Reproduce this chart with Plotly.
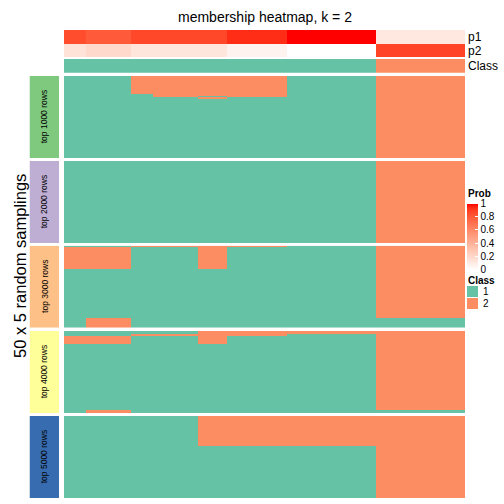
import numpy as np
import plotly.graph_objects as go

# ---------------- data ----------------
# consecutive samples sharing identical values (54 samples in total)
group_sizes = [3, 6, 3, 6, 4, 8, 12, 12]
p1_by_group = [0.85, 0.80, 0.87, 0.87, 0.87, 0.94, 1.00, 0.12]
p2_by_group = [0.15, 0.20, 0.13, 0.13, 0.13, 0.06, 0.00, 0.88]
class_by_group = [1, 1, 1, 1, 1, 1, 1, 2]

slice_names = ["top 1000 rows", "top 2000 rows", "top 3000 rows",
               "top 4000 rows", "top 5000 rows"]
slice_colors = ["#7FC97F", "#BEAED4", "#FDC086", "#FFFF99", "#386CB0"]

# membership of each random sampling: (number of samplings, class per sample group)
top1000 = [(11, "11222212"), (1, "11122212"), (1, "11121212"),
           (1, "11112112"), (36, "11111112")]
top2000 = [(50, "11111112")]
top3000 = [(1, "11222212"), (13, "22112112"), (30, "11111112"), (6, "12111111")]
top4000 = [(2, "11112222"), (1, "11222212"), (5, "22112112"),
           (40, "11111112"), (2, "12111111")]
top5000 = [(18, "11112222"), (32, "11111112")]
slices = [top1000, top2000, top3000, top4000, top5000]

class_colors = {1: "#66C2A5", 2: "#FC8D62"}

# ---------------- helpers ----------------
def expand(vals):
    return [v for v, n in zip(vals, group_sizes) for _ in range(n)]

def slice_matrix(runs):
    rows = []
    for cnt, pat in runs:
        row = expand([int(c) for c in pat])
        rows.extend([row] * cnt)
    return rows

def srgb_to_lab(rgb):
    c = np.array(rgb, float) / 255
    c = np.where(c > 0.04045, ((c + 0.055) / 1.055) ** 2.4, c / 12.92)
    M = np.array([[0.4124, 0.3576, 0.1805], [0.2126, 0.7152, 0.0722], [0.0193, 0.1192, 0.9505]])
    xyz = M @ c / np.array([0.95047, 1.0, 1.08883])
    f = np.where(xyz > 0.008856, np.cbrt(xyz), 7.787 * xyz + 16 / 116)
    return np.array([116 * f[1] - 16, 500 * (f[0] - f[1]), 200 * (f[1] - f[2])])

def lab_to_hex(lab):
    L, a, b = lab
    fy = (L + 16) / 116
    fx = fy + a / 500
    fz = fy - b / 200
    f = np.array([fx, fy, fz])
    xyz = np.where(f > 0.2069, f ** 3, (f - 16 / 116) / 7.787) * np.array([0.95047, 1.0, 1.08883])
    Mi = np.array([[3.2406, -1.5372, -0.4986], [-0.9689, 1.8758, 0.0415], [0.0557, -0.2040, 1.0570]])
    c = Mi @ xyz
    c = np.clip(c, 0, 1)
    c = np.where(c > 0.0031308, 1.055 * c ** (1 / 2.4) - 0.055, 12.92 * c)
    c = np.clip(np.round(c * 255), 0, 255).astype(int)
    return "#%02X%02X%02X" % tuple(c)

lw, lr = srgb_to_lab((255, 255, 255)), srgb_to_lab((255, 0, 0))
prob_scale = [[t, lab_to_hex(lw + (lr - lw) * t)] for t in np.linspace(0, 1, 21)]
class_scale = [[0, class_colors[1]], [0.5, class_colors[1]], [0.5, class_colors[2]], [1, class_colors[2]]]

W = H = 504
def py(p):
    return 1 - p / H

FONT = "Liberation Sans, Arial, Helvetica, sans-serif"
n_samples = sum(group_sizes)
xs = list(range(n_samples))

fig = go.Figure()

# probability annotation rows
fig.add_trace(go.Heatmap(
    z=[expand(p1_by_group), expand(p2_by_group)], x=xs, y=[0, 1],
    zmin=0, zmax=1, colorscale=prob_scale, xaxis="x", yaxis="y",
    hoverinfo="skip",
    colorbar=dict(x=467 / W, xanchor="left", y=py(203.5), yanchor="top",
                  len=66, lenmode="pixels", thickness=11, thicknessmode="pixels",
                  xpad=0, ypad=0, outlinewidth=0,
                  tickvals=[0, 0.2, 0.4, 0.6, 0.8, 1],
                  ticktext=["0", "0.2", "0.4", "0.6", "0.8", "1"],
                  ticks="inside", ticklen=3, tickcolor="white",
                  tickfont=dict(family=FONT, size=10, color="black")),
))
# class annotation row
fig.add_trace(go.Heatmap(
    z=[expand(class_by_group)], x=xs, y=[0], zmin=1, zmax=2,
    colorscale=class_scale, showscale=False, xaxis="x", yaxis="y2", hoverinfo="skip"))

# slices
for i, runs in enumerate(slices):
    ya = "y%d" % (i + 3)
    fig.add_trace(go.Heatmap(
        z=slice_matrix(runs), x=xs, y=list(range(50)), zmin=1, zmax=2,
        colorscale=class_scale, showscale=False, xaxis="x", yaxis=ya, hoverinfo="skip"))
    fig.add_trace(go.Heatmap(
        z=[[0]], x0=0, dx=1, y0=24.5, dy=50,
        colorscale=[[0, slice_colors[i]], [1, slice_colors[i]]], showscale=False,
        xaxis="x2", yaxis=ya, hoverinfo="skip"))

layout = dict(
    width=W, height=H, margin=dict(l=0, r=0, t=0, b=0),
    paper_bgcolor="white", plot_bgcolor="white", showlegend=False,
    xaxis=dict(domain=[64 / W, 465 / W], range=[-0.5, n_samples - 0.5], visible=False),
    xaxis2=dict(domain=[29.5 / W, 59 / W], range=[-0.5, 0.5], visible=False, anchor="y3"),
    yaxis=dict(domain=[py(57.3), py(30)], range=[1.5, -0.5], visible=False),
    yaxis2=dict(domain=[py(72.7), py(59)], range=[0.5, -0.5], visible=False),
)
tops = [76, 161, 245.7, 331, 416]
for i, t in enumerate(tops):
    layout["yaxis%d" % (i + 3)] = dict(domain=[py(t + 82), py(t)], range=[49.5, -0.5], visible=False)

def note(text, x, y, size, xanchor="center", angle=0, xref="paper", yref="paper"):
    return dict(text=text, x=x, y=y, xref=xref, yref=yref, xanchor=xanchor, yanchor="middle",
                textangle=angle, showarrow=False, font=dict(family=FONT, size=size, color="black"))

ann = []
ann.append(note("membership heatmap, k = 2", 264.5 / W, py(17), 14))
for txt, yy in [("p1", 37), ("p2", 50.7), ("Class", 66)]:
    ann.append(note(txt, 466 / W, py(yy), 12, xanchor="left"))
for i, name in enumerate(slice_names):
    ann.append(note(name, 0, 24.5, 8.5, angle=-90, xref="x2", yref="y%d" % (i + 3)))
ann.append(note("50 x 5 random samplings", 20 / W, py(266), 16.5, angle=-90))
ann.append(note("<b>Prob</b>", 466 / W, py(194), 10, xanchor="left"))
ann.append(note("<b>Class</b>", 466 / W, py(280), 10, xanchor="left"))
shapes = []
for lab, y0 in [(1, 286), (2, 298)]:
    shapes.append(dict(type="rect", xref="paper", yref="paper", x0=467 / W, x1=478 / W,
                       y0=py(y0 + 11), y1=py(y0), fillcolor=class_colors[lab], line=dict(width=0)))
    ann.append(note(str(lab), 481 / W, py(y0 + 5.5), 10, xanchor="left"))
layout["annotations"] = ann
layout["shapes"] = shapes
fig.update_layout(**layout)
fig.write_html("out.html", config={"displayModeBar": False},
               post_script="document.body.style.margin='0';")
